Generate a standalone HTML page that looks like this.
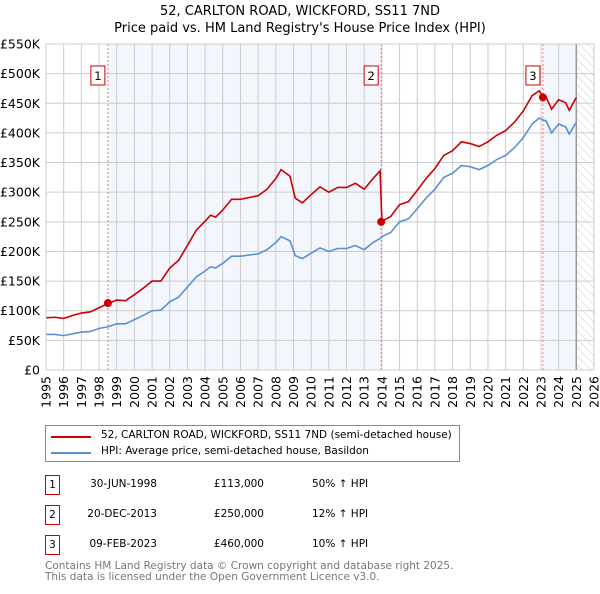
<!DOCTYPE html>
<html><head><meta charset="utf-8"><style>
body{margin:0;background:#fff;font-family:"DejaVu Sans","Liberation Sans",sans-serif;}
svg text{font-family:"DejaVu Sans","Liberation Sans",sans-serif;}
div{white-space:nowrap;}
</style></head><body>
<svg width="600" height="590" viewBox="0 0 600 590">
<defs><pattern id="hatch" width="6" height="6" patternUnits="userSpaceOnUse" patternTransform="rotate(-45)"><line x1="0" y1="0" x2="0" y2="6" stroke="#ccc" stroke-width="1"/></pattern></defs>
<g id="root"></g>
</svg>
<script>
const years=[1995,1995.5,1996,1996.5,1997,1997.5,1998,1998.5,1999,1999.5,2000,2000.5,2001,2001.5,2002,2002.5,2003,2003.5,2004,2004.3,2004.6,2005,2005.5,2006,2006.5,2007,2007.5,2008,2008.3,2008.8,2009.1,2009.5,2010,2010.5,2011,2011.5,2012,2012.5,2013,2013.5,2013.9,2014.0,2014.5,2015,2015.5,2016,2016.5,2017,2017.5,2018,2018.5,2019,2019.5,2020,2020.5,2021,2021.5,2022,2022.5,2022.9,2023.1,2023.3,2023.6,2024,2024.4,2024.6,2025];
const hpi=[60,60,58,61,64,65,70,73,78,78,85,92,100,101,115,123,140,157,167,174,172,180,192,192,194,196,203,215,225,218,193,188,197,206,200,205,205,210,203,215,222,225,232,250,255,272,290,305,325,332,345,343,338,345,355,362,375,392,415,425,422,420,400,415,410,398,418];
const price=[88,89,87,92,96,98,105,112,118,117,127,138,150,150,172,185,210,236,251,261,258,270,288,288,291,294,305,323,338,327,290,282,296,309,300,308,308,315,305,323,336,251,259,279,284,303,323,340,362,370,385,382,377,385,396,404,418,437,463,471,462,460,440,456,451,438,460];
const sales=[[1998.5,113000,"1"],[2013.96,250000,"2"],[2023.11,460000,"3"]];
const yTicks=[0,50,100,150,200,250,300,350,400,450,500,550];
const yLabels=["£0","£50K","£100K","£150K","£200K","£250K","£300K","£350K","£400K","£450K","£500K","£550K"];
const xTicks=[1995,1996,1997,1998,1999,2000,2001,2002,2003,2004,2005,2006,2007,2008,2009,2010,2011,2012,2013,2014,2015,2016,2017,2018,2019,2020,2021,2022,2023,2024,2025,2026];
const L=46,R=594,T=44,B=370;
const X=y=>L+(y-1995)*(R-L)/31;
const Y=v=>B-v*(B-T)/550;
const ns="http://www.w3.org/2000/svg",root=document.getElementById('root');
function mk(t,a,txt,p){const e=document.createElementNS(ns,t);for(const k in a)e.setAttribute(k,a[k]);if(txt!==undefined)e.textContent=txt;(p||root).appendChild(e);return e;}
let e;
e=mk('rect',{x:L,y:T,width:R-L,height:B-T,fill:'#fff'});


e=mk('rect',{x:X(sales[0][0]),y:T,width:X(sales[1][0])-X(sales[0][0]),height:B-T,fill:'#f3f6fd'});


e=mk('rect',{x:X(sales[2][0]),y:T,width:X(2025)-X(sales[2][0]),height:B-T,fill:'#f3f6fd'});


e=mk('rect',{x:X(2025),y:T,width:R-X(2025),height:B-T,fill:'url(#hatch)'});


yTicks.forEach((v,i)=>{
 e=mk('line',{x1:L,x2:R,y1:Y(v),y2:Y(v),stroke:'#ccc','stroke-width':1});
 
 
 e=mk('text',{x:L-6,y:Y(v)+4.5,'text-anchor':'end','font-size':12.5,fill:'#000'},yLabels[i]);
 
 
});
xTicks.forEach(y=>{
 e=mk('line',{x1:X(y),x2:X(y),y1:T,y2:B,stroke:'#ccc','stroke-width':1});
 
 
 e=mk('text',{x:0,y:0,'text-anchor':'end','font-size':12.5,fill:'#000',transform:`translate(${X(y)+4.5},${B+6}) rotate(-90)`},String(y));
 
 
});
e=mk('line',{x1:X(2025),x2:X(2025),y1:T,y2:B,stroke:'#999','stroke-width':1.5});


sales.forEach(s=>{
 e=mk('line',{x1:X(s[0]),x2:X(s[0]),y1:T,y2:B,stroke:'#e77','stroke-width':1,'stroke-dasharray':'2,2'});
 
 
});
e=mk('polyline',{points:years.map((y,i)=>X(y)+','+Y(hpi[i])).join(' '),fill:'none',stroke:'#5b8fd4','stroke-width':1.6});


e=mk('polyline',{points:years.map((y,i)=>X(y)+','+Y(price[i])).join(' '),fill:'none',stroke:'#cc0000','stroke-width':1.6});


sales.forEach(s=>{
 e=mk('circle',{cx:X(s[0]),cy:Y(s[1]/1000),r:4,fill:'#cc0000'});
 
 
 e=mk('rect',{x:X(s[0])-17,y:66,width:14,height:19,fill:'#fff',stroke:'#c00','stroke-width':1});
 
 
 e=mk('text',{x:X(s[0])-10,y:80,'text-anchor':'middle','font-size':11.5},s[2]);
 
 
});
e=mk('rect',{x:L,y:T,width:R-L,height:B-T,fill:'none',stroke:'#ccc','stroke-width':1});


</script>
<div style="position:absolute;left:0;top:0;width:600px;text-align:center;font-size:13px;line-height:17px;padding-top:3px">52, CARLTON ROAD, WICKFORD, SS11 7ND<br>Price paid vs. HM Land Registry's House Price Index (HPI)</div>
<div style="position:absolute;left:45px;top:425px;width:413px;height:35px;border:1px solid #888;font-size:10.5px">
 <div style="position:absolute;left:5px;top:10px;width:40px;height:2px;background:#cc0000"></div>
 <div style="position:absolute;left:55px;top:3px">52, CARLTON ROAD, WICKFORD, SS11 7ND (semi-detached house)</div>
 <div style="position:absolute;left:5px;top:26px;width:40px;height:2px;background:#5b8fd4"></div>
 <div style="position:absolute;left:55px;top:19px">HPI: Average price, semi-detached house, Basildon</div>
</div>
<div style="position:absolute;left:0;top:0;font-size:10.5px">
 <div style="position:absolute;left:45px;top:475px;width:13px;height:18px;border:1px solid #c00;text-align:center;line-height:18px">1</div>
 <div style="position:absolute;left:80px;top:478px;width:77px;text-align:right">30-JUN-1998</div>
 <div style="position:absolute;left:190px;top:478px;width:74px;text-align:right">£113,000</div>
 <div style="position:absolute;left:312px;top:478px">50% ↑ HPI</div>
 <div style="position:absolute;left:45px;top:505px;width:13px;height:18px;border:1px solid #c00;text-align:center;line-height:18px">2</div>
 <div style="position:absolute;left:80px;top:508px;width:77px;text-align:right">20-DEC-2013</div>
 <div style="position:absolute;left:190px;top:508px;width:74px;text-align:right">£250,000</div>
 <div style="position:absolute;left:312px;top:508px">12% ↑ HPI</div>
 <div style="position:absolute;left:45px;top:535px;width:13px;height:18px;border:1px solid #c00;text-align:center;line-height:18px">3</div>
 <div style="position:absolute;left:80px;top:538px;width:77px;text-align:right">09-FEB-2023</div>
 <div style="position:absolute;left:190px;top:538px;width:74px;text-align:right">£460,000</div>
 <div style="position:absolute;left:312px;top:538px">10% ↑ HPI</div>
</div>
<div style="position:absolute;left:45px;top:561px;font-size:10.5px;line-height:10.5px;color:#777">Contains HM Land Registry data © Crown copyright and database right 2025.<br>This data is licensed under the Open Government Licence v3.0.</div>
</body></html>
